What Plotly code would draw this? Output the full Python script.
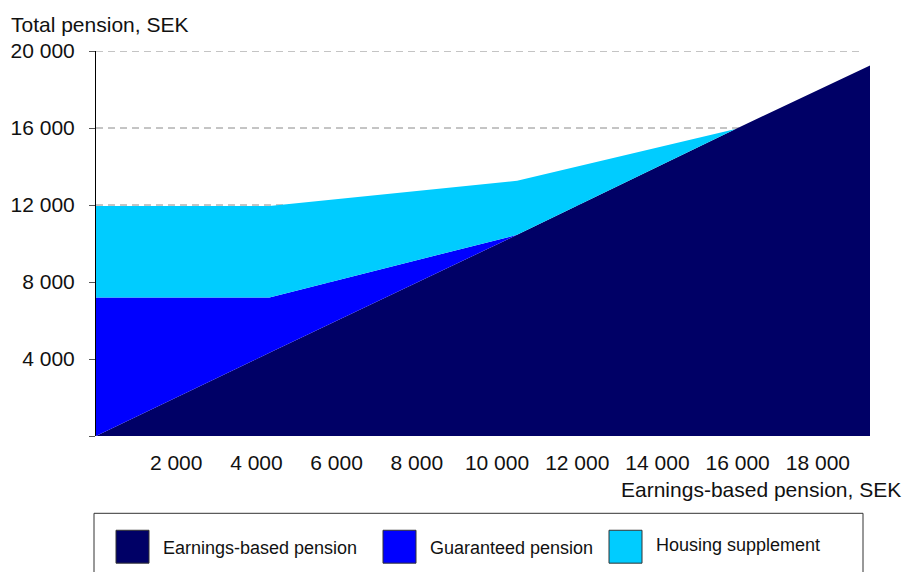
import plotly.graph_objects as go

# Data (SEK)
earnings_x = [0, 4325, 10500, 15950, 19300]
earnings_based = [0, 4325, 10450, 15950, 19250]
guaranteed = [7200, 2875, 0, 0, 0]
housing = [4750, 4750, 2810, 0, 0]

x_ticks = [2000, 4000, 6000, 8000, 10000, 12000, 14000, 16000, 18000]
x_ticktext = ["2 000", "4 000", "6 000", "8 000", "10 000", "12 000", "14 000", "16 000", "18 000"]
y_ticks = [0, 4000, 8000, 12000, 16000, 20000]
y_ticktext = ["", "4 000", "8 000", "12 000", "16 000", "20 000"]
grid_vals = [4000, 8000, 12000, 16000, 20000]

series_names = ["Earnings-based pension", "Guaranteed pension", "Housing supplement"]
colors = ["#000066", "#0000FF", "#00CCFF"]

W, H = 906, 572
L, R, T, B = 96, 870, 50.5, 436.5

fig = go.Figure()
for name, vals, col in zip(series_names, [earnings_based, guaranteed, housing], colors):
    fig.add_trace(go.Scatter(
        x=earnings_x, y=vals, name=name, stackgroup="one", mode="none",
        fillcolor=col, line=dict(width=0), showlegend=False, hoverinfo="skip"))

def px2x(px):
    return (px - L) / (R - L)

def px2y(py):
    return (B - py) / (B - T)

shapes = []
annotations = []

# dashed gridlines
for gv in grid_vals:
    shapes.append(dict(type="line", xref="paper", yref="y", x0=0, x1=px2x(863),
                       y0=gv, y1=gv, layer="below",
                       line=dict(color="#8a8a8a", width=1, dash="7px,5px")))

# Legend box
shapes.append(dict(type="rect", xref="paper", yref="paper",
                   x0=px2x(94), x1=px2x(863), y0=px2y(590), y1=px2y(514),
                   line=dict(color="#333333", width=1), fillcolor="rgba(0,0,0,0)"))
sq_x = [116, 383, 609]
txt_x = [161, 428, 654]
txt_y = [549, 549, 546]
for sx, tx, ty, name, col in zip(sq_x, txt_x, txt_y, series_names, colors):
    shapes.append(dict(type="rect", xref="paper", yref="paper",
                       x0=px2x(sx), x1=px2x(sx + 33), y0=px2y(564), y1=px2y(531),
                       line=dict(color="#333333", width=1), fillcolor=col))
    annotations.append(dict(text=name, xref="paper", yref="paper",
                            x=px2x(tx), y=px2y(ty), xanchor="left", yanchor="middle",
                            showarrow=False, font=dict(size=18, color="#111111")))

annotations.append(dict(text="Total pension, SEK", xref="paper", yref="paper",
                        x=px2x(9), y=px2y(24), xanchor="left", yanchor="middle",
                        showarrow=False, font=dict(size=21, color="#111111")))
annotations.append(dict(text="Earnings-based pension, SEK", xref="paper", yref="paper",
                        x=px2x(903), y=px2y(490), xanchor="right", yanchor="middle",
                        showarrow=False, font=dict(size=21, color="#111111")))

fig.update_layout(
    width=W, height=H,
    margin=dict(l=L, r=W - R, t=T, b=H - B, pad=0),
    paper_bgcolor="white", plot_bgcolor="white",
    font=dict(family="Liberation Sans, Arial, sans-serif", size=21, color="#111111"),
    shapes=shapes, annotations=annotations,
    xaxis=dict(range=[0, 19300], tickvals=x_ticks, ticktext=x_ticktext,
               showgrid=False, zeroline=False, showline=False, ticks="",
               ticklabelstandoff=12, fixedrange=True),
    yaxis=dict(range=[0, 20000], tickvals=y_ticks, ticktext=y_ticktext,
               showgrid=False, zeroline=False, showline=True, linecolor="#000000", linewidth=1,
               ticks="outside", ticklen=6, tickcolor="#555555",
               ticklabelstandoff=10, fixedrange=True),
)

fig.write_html("out.html", config={"displayModeBar": False},
               post_script="document.body.style.margin='0';document.body.style.overflow='hidden';")
